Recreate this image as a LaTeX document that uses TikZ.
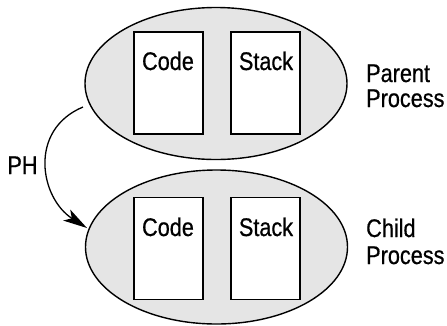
\documentclass[tikz,border=0pt]{standalone}
\usepackage{fontspec}
\setmainfont{Liberation Sans}[FakeStretch=0.85,FakeBold=0.6]
\usetikzlibrary{shapes.geometric,arrows.meta}
\begin{document}
\begin{tikzpicture}[x=1pt,y=-1pt,
  proc/.style={ellipse,draw,line width=1.4pt,fill=black!10,minimum width=262pt,minimum height=152pt,inner sep=0pt},
  seg/.style={draw,line width=1.1pt,fill=white,minimum width=69pt,minimum height=102pt,inner sep=0pt},
  lbl/.style={font=\fontsize{25.5}{27}\selectfont,inner sep=0pt}]
\useasboundingbox (0,0) rectangle (447,325);
\node[proc] (top) at (216,83.5) {};
\node[proc,minimum height=154pt] (bot) at (216.5,247) {};
\node[seg] (tc) at (168.5,83) {};
\node[seg] (ts) at (265.5,83) {};
\node[seg] (bc) at (168.5,248.5) {};
\node[seg] (bs) at (265.5,248.5) {};
\node[lbl,anchor=base] (tct) at (168,70) {Code};
\node[lbl,anchor=base] (tst) at (266,70) {Stack};
\node[lbl,anchor=base] (bct) at (168,236) {Code};
\node[lbl,anchor=base] (bst) at (266,236) {Stack};
\node[lbl,anchor=base west] (pp1) at (366,82) {Parent};
\node[lbl,anchor=base west] (pp2) at (366,107) {Process};
\node[lbl,anchor=base west] (cp1) at (366,237) {Child};
\node[lbl,anchor=base west] (cp2) at (366,264) {Process};
\node[lbl,anchor=base] (ph) at (22.5,174) {PH};
\coordinate (s) at (83,107);
\coordinate (e) at (87,228);
\draw[line width=1.3pt,-{Stealth[length=24pt,width=13pt,inset=6pt]}] (s) .. controls (28,130) and (40,198) .. (e);
\end{tikzpicture}
\end{document}
